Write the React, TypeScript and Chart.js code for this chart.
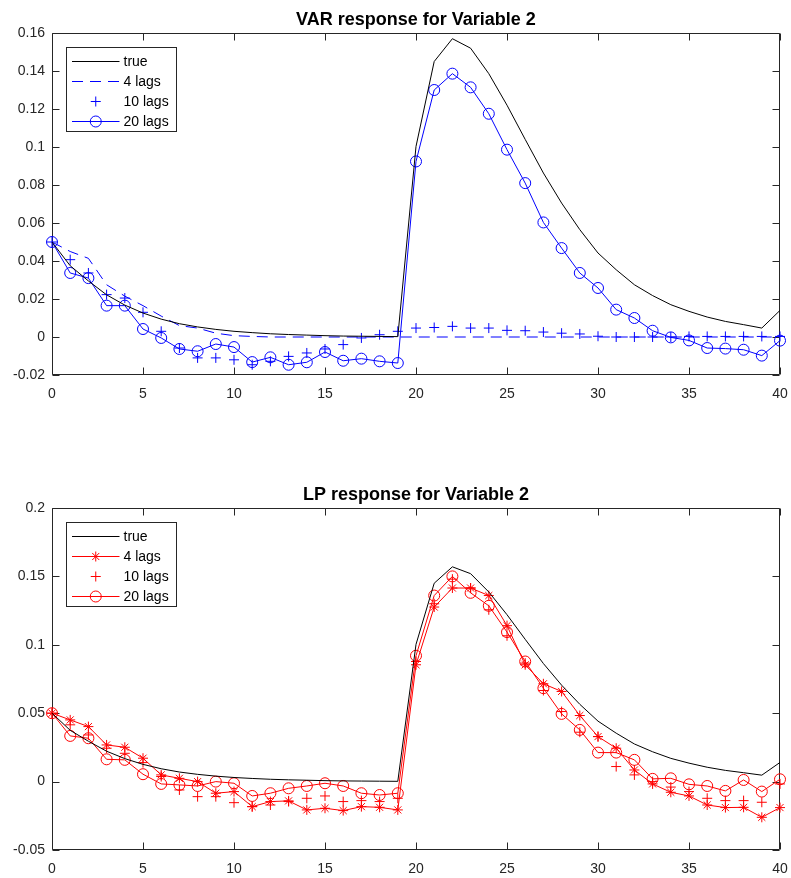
import React, { useEffect, useRef } from 'react';
import { Chart, registerables } from 'chart.js';

Chart.register(...registerables);

// ---------- data ----------
const lags = [0, 1, 2, 3, 4, 5, 6, 7, 8, 9, 10, 11, 12, 13, 14, 15, 16, 17, 18, 19, 20, 21, 22, 23, 24, 25, 26, 27, 28, 29, 30, 31, 32, 33, 34, 35, 36, 37, 38, 39, 40];

const trueResp = [0.05, 0.0375, 0.0295, 0.0222, 0.0168, 0.0126, 0.0094, 0.007, 0.0053, 0.004, 0.003, 0.0023, 0.0017, 0.0013, 0.001, 0.0007, 0.0005, 0.0004, 0.0003, 0.0002,
  0.1003, 0.145, 0.157, 0.152, 0.1386, 0.122, 0.104, 0.0863, 0.0705, 0.0565, 0.0442, 0.0354, 0.0275, 0.0218, 0.017, 0.0135, 0.0105, 0.0082, 0.0065, 0.0047, 0.014];

const var4 = [0.05, 0.045, 0.0414, 0.0275, 0.0215, 0.0165, 0.011, 0.006, 0.0047, 0.002, 0.0007, 0.0003, 0, 0, 0, 0, 0, 0, 0, 0,
  0, 0, 0, 0, 0, 0, 0, 0, 0, 0, 0, 0, 0, 0, 0, 0, 0, 0, 0, 0, 0];

const var10 = [0.05, 0.0407, 0.0337, 0.0223, 0.0205, 0.013, 0.003, -0.0058, -0.011, -0.011, -0.012, -0.0146, -0.0128, -0.0102, -0.0084, -0.0063, -0.004, -0.0005, 0.0012, 0.003,
  0.0047, 0.005, 0.0056, 0.0047, 0.0047, 0.0035, 0.0033, 0.0026, 0.002, 0.0016, 0.0004, 0, 0, 0, 0, 0.0003, 0.0003, 0.0003, 0.0003, 0.0003, 0.0003];

const var20 = [0.05, 0.0337, 0.031, 0.0165, 0.0165, 0.0042, -0.0005, -0.0063, -0.0075, -0.0037, -0.0053, -0.0132, -0.0107, -0.0146, -0.0133, -0.0079, -0.0125, -0.0114, -0.0128, -0.0137,
  0.0924, 0.13, 0.1386, 0.1314, 0.1175, 0.0986, 0.081, 0.0603, 0.0468, 0.0337, 0.0258, 0.0144, 0.01, 0.0033, -0.0002, -0.0018, -0.0058, -0.0061, -0.0067, -0.0098, -0.0019];

const lp4 = [0.05, 0.0451, 0.0402, 0.0268, 0.0251, 0.0171, 0.0049, 0.0024, 0, -0.0085, -0.0073, -0.0183, -0.0146, -0.0141, -0.0207, -0.0195, -0.0212, -0.0183, -0.0188, -0.0207,
  0.0854, 0.1276, 0.1415, 0.1415, 0.136, 0.114, 0.0854, 0.0715, 0.0659, 0.0483, 0.0329, 0.0244, 0.0085, -0.0017, -0.0078, -0.0105, -0.0171, -0.019, -0.0188, -0.0261, -0.019];

const lp10 = [0.05, 0.0415, 0.0341, 0.0244, 0.0207, 0.0139, 0.0037, -0.0061, -0.011, -0.011, -0.0154, -0.0183, -0.0171, -0.0146, -0.0122, -0.0105, -0.0146, -0.0139, -0.0146, -0.0122,
  0.0878, 0.13, 0.148, 0.1415, 0.1256, 0.1066, 0.0866, 0.0666, 0.0512, 0.0361, 0.0329, 0.011, 0.0049, 0, -0.004, -0.0073, -0.0122, -0.0139, -0.0139, -0.0151, -0.0017];

const lp20 = [0.05, 0.0334, 0.0317, 0.0163, 0.0159, 0.0054, -0.0017, -0.0024, -0.0032, 0, -0.0012, -0.0105, -0.0085, -0.0049, -0.0032, -0.0012, -0.0032, -0.0085, -0.0098, -0.0085,
  0.092, 0.136, 0.15, 0.138, 0.1285, 0.1093, 0.0878, 0.0683, 0.0495, 0.0378, 0.0212, 0.0212, 0.0159, 0.002, 0.0024, -0.002, -0.0032, -0.0068, 0.0012, -0.0073, 0.0017];

const seriesLabels = ['true', '4 lags', '10 lags', '20 lags'];
const xTicks = { min: 0, max: 40, step: 5 };
const varTicks = { min: -0.02, max: 0.16, step: 0.02 };
const lpTicks = { min: -0.05, max: 0.2, step: 0.05 };

// ---------- styling ----------
const FONT = '"Liberation Sans", Arial, Helvetica, sans-serif';
const AXIS_COLOR = '#262626';
const BLUE = '#0000ff';
const RED = '#ff0000';

const toPoints = (ys: number[]) => lags.map((x, i) => ({ x, y: ys[i] }));

function drawMarker(ctx: CanvasRenderingContext2D, style: string, x: number, y: number, r: number, color: string) {
  ctx.save();
  ctx.strokeStyle = color;
  ctx.lineWidth = 1;
  ctx.setLineDash([]);
  ctx.beginPath();
  if (style === 'circle') {
    ctx.arc(x, y, r, 0, Math.PI * 2);
  } else if (style === 'cross' || style === 'star') {
    ctx.moveTo(x - r, y); ctx.lineTo(x + r, y);
    ctx.moveTo(x, y - r); ctx.lineTo(x, y + r);
    if (style === 'star') {
      const d = r * Math.SQRT1_2;
      ctx.moveTo(x - d, y - d); ctx.lineTo(x + d, y + d);
      ctx.moveTo(x - d, y + d); ctx.lineTo(x + d, y - d);
    }
  }
  ctx.stroke();
  ctx.restore();
}

const matlabAxes = {
  id: 'matlabAxes',
  beforeDatasetsDraw(chart: any) {
    const { ctx, chartArea: a, scales } = chart;
    const L = Math.round(a.left) + 0.5;
    const R = Math.round(a.right) - 0.5;
    const T = Math.round(a.top) + 0.5;
    const B = Math.round(a.bottom) - 0.5;
    const tl = 7;
    ctx.save();
    ctx.strokeStyle = AXIS_COLOR;
    ctx.lineWidth = 1;
    ctx.beginPath();
    ctx.rect(L, T, R - L, B - T);
    scales.x.ticks.forEach((t: any) => {
      const px = Math.round(scales.x.getPixelForValue(t.value)) + 0.5;
      ctx.moveTo(px, B); ctx.lineTo(px, B - tl);
      ctx.moveTo(px, T); ctx.lineTo(px, T + tl);
    });
    scales.y.ticks.forEach((t: any) => {
      const py = Math.round(scales.y.getPixelForValue(t.value)) + 0.5;
      ctx.moveTo(L, py); ctx.lineTo(L + tl, py);
      ctx.moveTo(R, py); ctx.lineTo(R - tl, py);
    });
    ctx.stroke();
    ctx.restore();
  },
  afterDatasetsDraw(chart: any) {
    const { ctx, chartArea: a } = chart;
    const bx = Math.round(a.left + 14) + 0.5;
    const by = Math.round(a.top + 14) + 0.5;
    const bw = 110;
    const bh = 84;
    ctx.save();
    ctx.fillStyle = '#ffffff';
    ctx.fillRect(bx, by, bw, bh);
    ctx.strokeStyle = AXIS_COLOR;
    ctx.lineWidth = 1;
    ctx.strokeRect(bx, by, bw, bh);
    chart.data.datasets.forEach((ds: any, i: number) => {
      const cy = Math.round(by + 13 + i * 20) + 0.5;
      const x0 = bx + 5.5;
      const x1 = bx + 53;
      if (ds.showLine !== false) {
        ctx.save();
        ctx.strokeStyle = ds.borderColor;
        ctx.lineWidth = ds.borderWidth || 1;
        ctx.setLineDash(ds.borderDash || []);
        ctx.beginPath();
        ctx.moveTo(x0, cy);
        ctx.lineTo(x1, cy);
        ctx.stroke();
        ctx.restore();
      }
      if (ds.pointRadius > 0) {
        drawMarker(ctx, ds.pointStyle, (x0 + x1) / 2, cy, ds.pointRadius, ds.borderColor);
      }
      ctx.fillStyle = '#000000';
      ctx.font = `14px ${FONT}`;
      ctx.textAlign = 'left';
      ctx.textBaseline = 'middle';
      ctx.fillText(ds.label, bx + 57, cy + 0.5);
    });
    ctx.restore();
  },
};

function buildDatasets(color: string, s4: number[], s10: number[], s20: number[], style4: 'dash' | 'star') {
  const base = { clip: false as any, borderWidth: 1, backgroundColor: 'rgba(0,0,0,0)', tension: 0 };
  return [
    { ...base, label: seriesLabels[0], data: toPoints(trueResp), borderColor: '#000000', pointRadius: 0, showLine: true },
    style4 === 'dash'
      ? { ...base, label: seriesLabels[1], data: toPoints(s4), borderColor: color, borderDash: [11, 7], pointRadius: 0, showLine: true }
      : { ...base, label: seriesLabels[1], data: toPoints(s4), borderColor: color, pointStyle: 'star', pointRadius: 5, pointBorderColor: color, pointBorderWidth: 1, showLine: true },
    { ...base, label: seriesLabels[2], data: toPoints(s10), borderColor: color, pointStyle: 'cross', pointRadius: 5, pointBorderColor: color, pointBorderWidth: 1, showLine: false },
    { ...base, label: seriesLabels[3], data: toPoints(s20), borderColor: color, pointStyle: 'circle', pointRadius: 5.5, pointBorderColor: color, pointBackgroundColor: 'rgba(0,0,0,0)', pointBorderWidth: 1, showLine: true },
  ];
}

function makeConfig(title: string, datasets: any[], yT: { min: number; max: number; step: number }) {
  return {
    type: 'scatter' as const,
    data: { datasets },
    options: {
      animation: false,
      responsive: false,
      events: [],
      layout: { padding: { left: 0, right: 11, top: 0, bottom: 0 } },
      plugins: {
        legend: { display: false },
        tooltip: { enabled: false },
        title: {
          display: true,
          text: title,
          fullSize: false,
          color: '#000000',
          font: { family: FONT, size: 18, weight: 'bold', lineHeight: 1.2 },
          padding: { top: 9, bottom: 2.4 },
        },
      },
      scales: {
        x: {
          type: 'linear',
          min: xTicks.min,
          max: xTicks.max,
          afterFit: (s: any) => {
            s.height = 28;
            s.paddingLeft = 0;
            s.paddingRight = 0;
          },
          grid: { display: false, drawTicks: false },
          border: { display: false },
          ticks: { stepSize: xTicks.step, padding: 11, color: AXIS_COLOR, font: { family: FONT, size: 14 }, maxRotation: 0, autoSkip: false },
        },
        y: {
          type: 'linear',
          min: yT.min,
          max: yT.max,
          afterFit: (s: any) => { s.width = 52; },
          grid: { display: false, drawTicks: false },
          border: { display: false },
          ticks: {
            stepSize: yT.step,
            padding: 7,
            color: AXIS_COLOR,
            font: { family: FONT, size: 14 },
            autoSkip: false,
            callback: (v: any) => String(Math.round(Number(v) * 1000) / 1000),
          },
        },
      },
    },
    plugins: [matlabAxes],
  };
}

function ChartPanel({ top, title, datasets, yT }: { top: number; title: string; datasets: any[]; yT: any }) {
  const ref = useRef<HTMLCanvasElement>(null);
  useEffect(() => {
    if (!ref.current) return;
    const chart = new Chart(ref.current, makeConfig(title, datasets, yT) as any);
    return () => chart.destroy();
  }, []);
  return (
    <canvas
      ref={ref}
      width={791}
      height={403}
      style={{ position: 'absolute', left: 0, top, width: 791, height: 403, display: 'block' }}
    />
  );
}

export default function App() {
  return (
    <div style={{ position: 'fixed', left: 0, top: 0, width: 791, height: 878, background: '#ffffff' }}>
      <ChartPanel top={0} title="VAR response for Variable 2" datasets={buildDatasets(BLUE, var4, var10, var20, 'dash')} yT={varTicks} />
      <ChartPanel top={475} title="LP response for Variable 2" datasets={buildDatasets(RED, lp4, lp10, lp20, 'star')} yT={lpTicks} />
    </div>
  );
}
